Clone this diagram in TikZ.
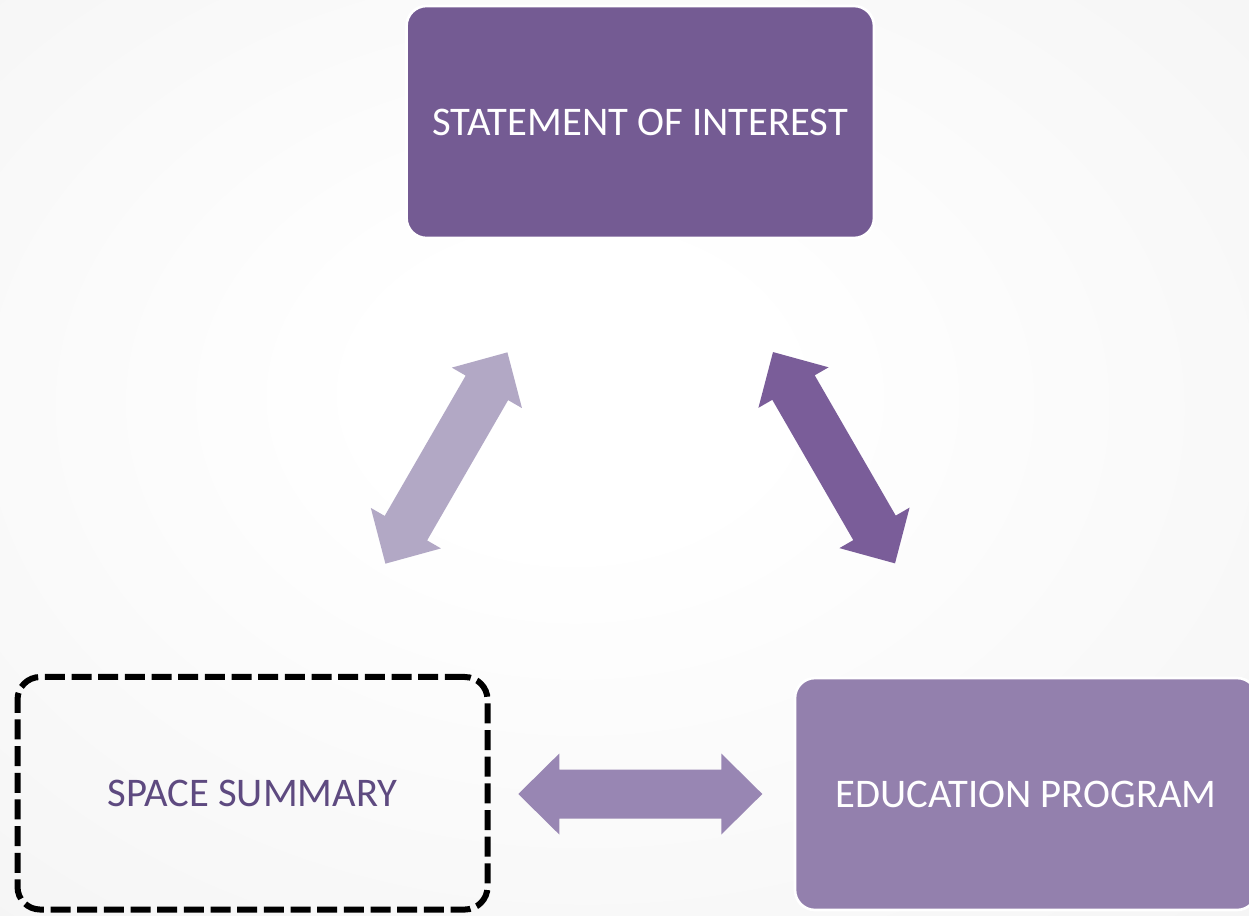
\documentclass[tikz,border=0pt]{standalone}
\usepackage{fontspec}
\setmainfont{Carlito}
\definecolor{bgedge}{RGB}{233,233,233}
\definecolor{topfill}{RGB}{116,91,147}
\definecolor{epfill}{RGB}{147,128,173}
\definecolor{sstext}{RGB}{94,74,128}
\definecolor{arrowA}{RGB}{178,168,197}
\definecolor{arrowB}{RGB}{122,93,153}
\definecolor{arrowC}{RGB}{152,134,179}
\pgfdeclareradialshading{bgshade}{\pgfpoint{-2.4bp}{4bp}}{color(0bp)=(white); color(8bp)=(white); color(72bp)=(bgedge)}
\tikzset{
  box/.style={rectangle, rounded corners=15pt, minimum width=350.6pt, minimum height=174pt, inner sep=0pt, font=\fontsize{30.5}{36}\selectfont},
  filledbox/.style={box, draw=white, line width=2pt, text=white},
  dashbox/.style={box, draw=black, line width=4.5pt, dash pattern=on 15pt off 5pt, rounded corners=17pt, text=sstext},
  dblarrow/.pic={\path[pic actions] (-122,0) -- (-81,-40.5) -- (-81,-24.5) -- (81,-24.5) -- (81,-40.5) -- (122,0) -- (81,40.5) -- (81,24.5) -- (-81,24.5) -- (-81,40.5) -- cycle;}
}
\begin{document}
\begin{tikzpicture}[x=0.75pt,y=-0.75pt]
\useasboundingbox (0,0) rectangle (1249,915);
\begin{scope}
\clip (0,0) rectangle (1249,915);
\shade[shading=bgshade] (0,0) rectangle (1249,915);
\node[filledbox, fill=topfill] (soi) at (640.25,122) {STATEMENT OF INTEREST};
\node[dashbox, minimum width=352.5pt, minimum height=174.4pt] (ss) at (252.5,793.25) {SPACE SUMMARY};
\node[filledbox, fill=epfill, minimum width=346.5pt] (ep) at (1026,794) {EDUCATION PROGRAM};
\coordinate (a1) at (446.4,458);
\coordinate (a2) at (834,457.7);
\coordinate (a3) at (640.3,794);
\pic[fill=arrowA, rotate=60] at (a1) {dblarrow};
\pic[fill=arrowB, rotate=-60] at (a2) {dblarrow};
\pic[fill=arrowC] at (a3) {dblarrow};
\end{scope}
\end{tikzpicture}
\end{document}
